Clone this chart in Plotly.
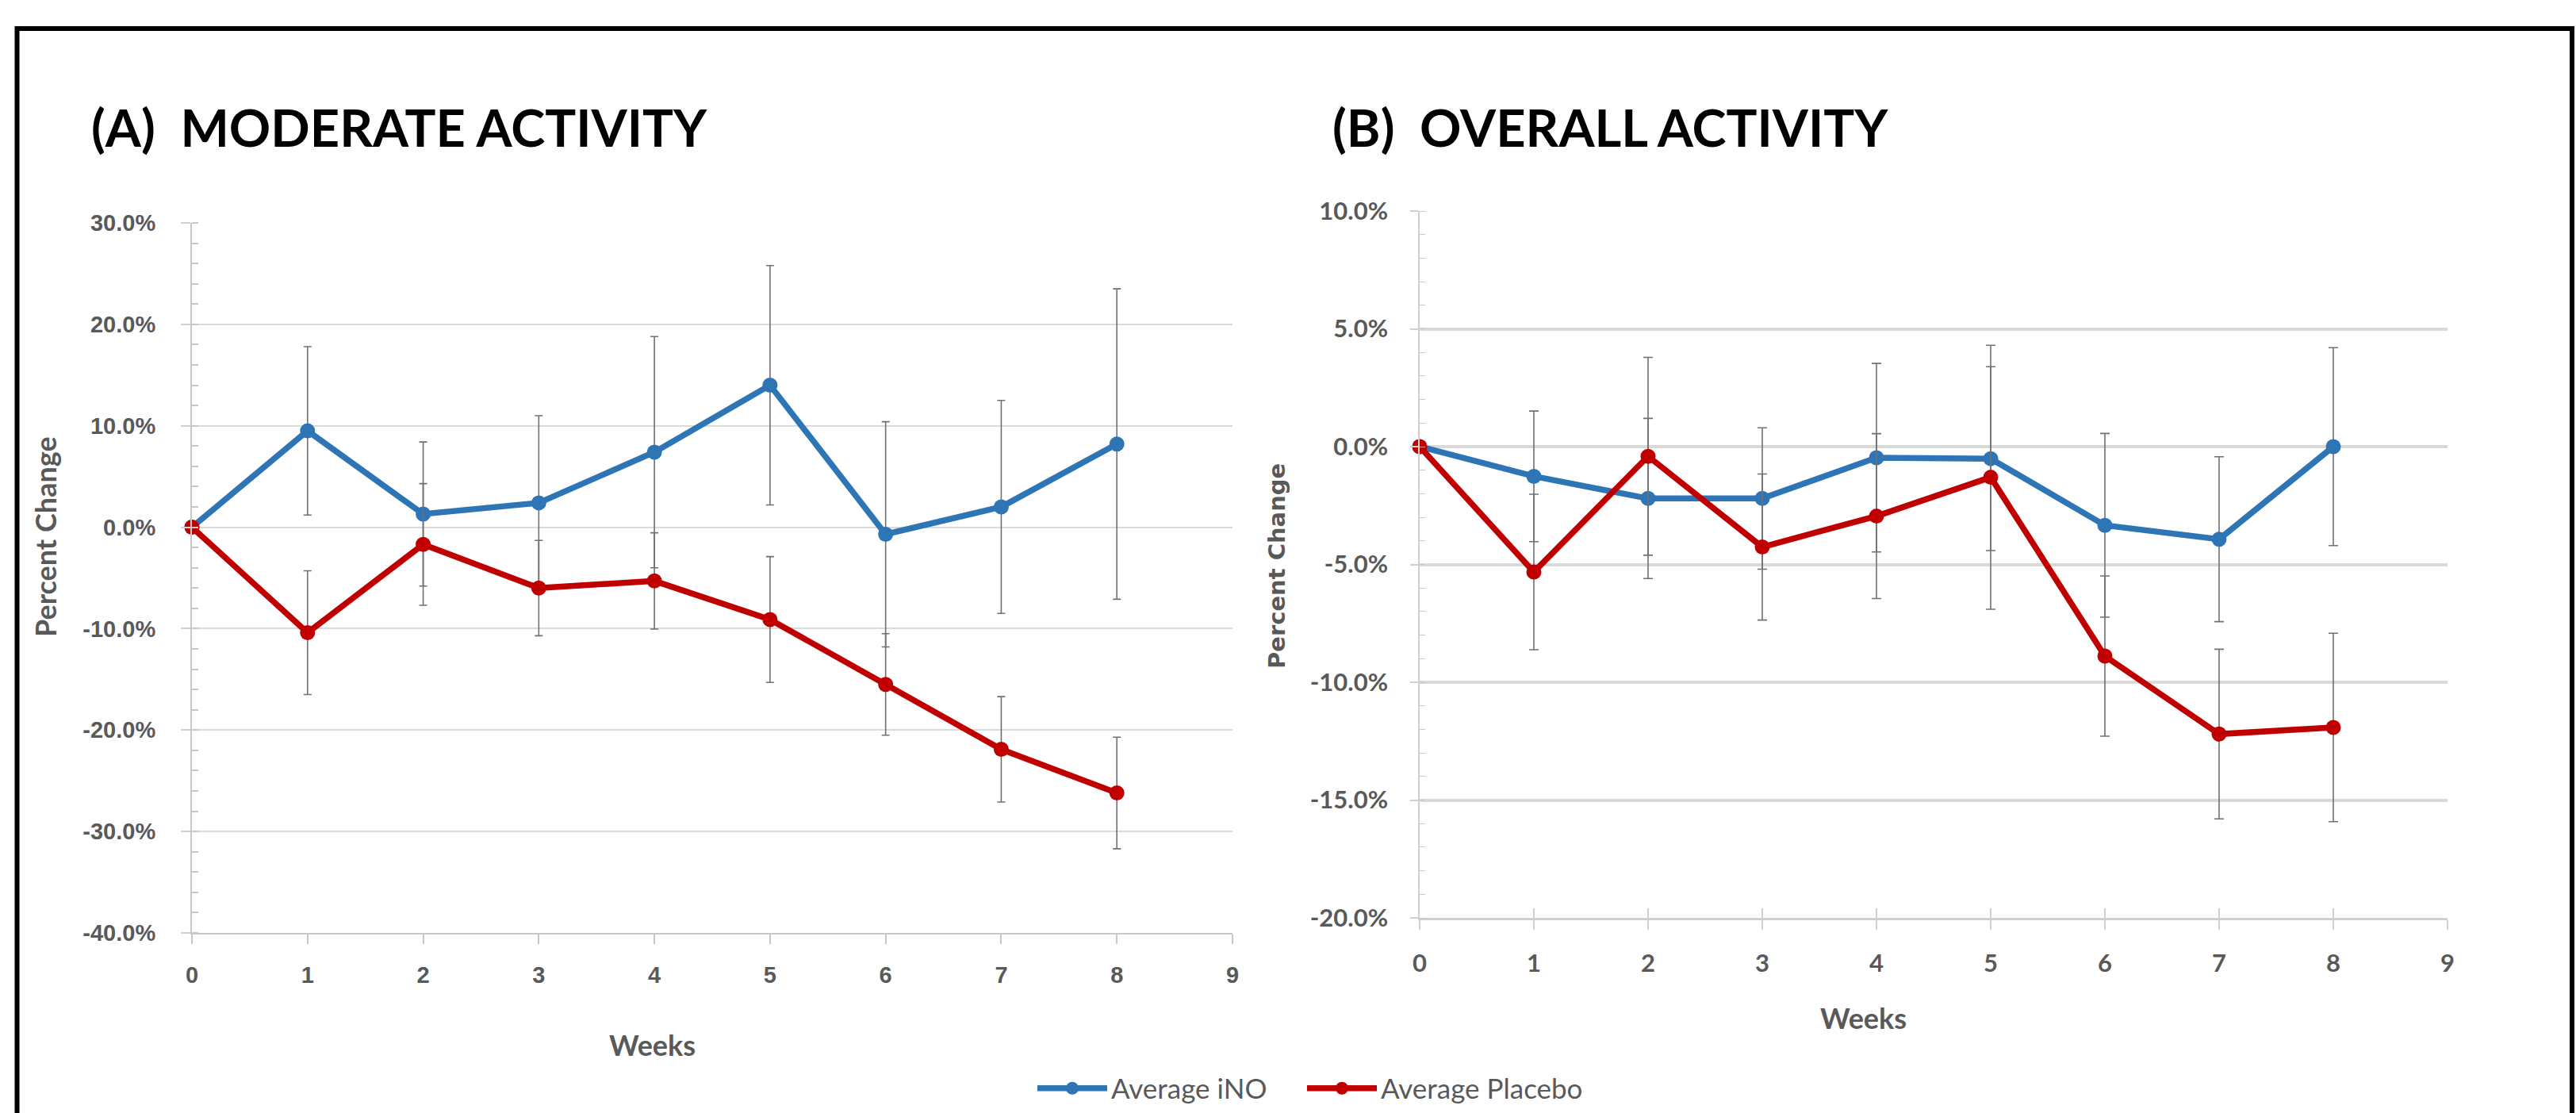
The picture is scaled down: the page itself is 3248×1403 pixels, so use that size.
import plotly.graph_objects as go

W, H = 3248, 1403

# ---------------- data ----------------
weeks = [0, 1, 2, 3, 4, 5, 6, 7, 8]
x_tick_vals = [0, 1, 2, 3, 4, 5, 6, 7, 8, 9]
x_tick_text = ["0", "1", "2", "3", "4", "5", "6", "7", "8", "9"]

# (A) Moderate activity, percent change
ino_mod = [0.0, 9.5, 1.3, 2.4, 7.4, 14.0, -0.7, 2.0, 8.2]
ino_mod_err = [0.0, 8.3, 7.1, 8.6, 11.4, 11.8, 11.1, 10.5, 15.3]
placebo_mod = [0.0, -10.4, -1.7, -6.0, -5.3, -9.1, -15.5, -21.9, -26.2]
placebo_mod_err = [0.0, 6.1, 6.0, 4.7, 4.75, 6.2, 5.0, 5.2, 5.5]
mod_tick_vals = [30, 20, 10, 0, -10, -20, -30, -40]
mod_tick_text = ["30.0%", "20.0%", "10.0%", "0.0%", "-10.0%", "-20.0%", "-30.0%", "-40.0%"]

# (B) Overall activity, percent change
ino_all = [0.0, -1.26, -2.2, -2.2, -0.47, -0.51, -3.34, -3.93, 0.0]
ino_all_err = [0.0, 2.77, 3.4, 3.0, 4.0, 3.9, 3.9, 3.5, 4.2]
placebo_all = [0.0, -5.32, -0.41, -4.26, -2.95, -1.30, -8.89, -12.2, -11.92]
placebo_all_err = [0.0, 3.3, 4.2, 3.1, 3.5, 5.6, 3.4, 3.6, 4.0]
all_tick_vals = [10, 5, 0, -5, -10, -15, -20]
all_tick_text = ["10.0%", "5.0%", "0.0%", "-5.0%", "-10.0%", "-15.0%", "-20.0%"]

series_names = ["Average iNO", "Average Placebo"]

# ---------------- styles ----------------
BLUE = "#2E75B6"
RED = "#C00000"
GRAY_TXT = "#595959"
ERR_C = "#707070"


def px(v):
    return v / W


def py(v):
    return 1 - v / H


fig = go.Figure()


def add(x, y, err, color, name, xa, ya, legend, capw, lg):
    fig.add_trace(go.Scatter(
        x=x, y=y, name=name, mode="lines+markers",
        line=dict(color=color, width=7.5),
        marker=dict(color=color, size=19),
        error_y=dict(type="data", array=err, visible=True, color=ERR_C,
                     thickness=1.6, width=capw),
        xaxis=xa, yaxis=ya, showlegend=legend, cliponaxis=False, legend=lg,
    ))


add(weeks, ino_mod, ino_mod_err, BLUE, series_names[0], "x", "y", True, 5, "legend")
add(weeks, placebo_mod, placebo_mod_err, RED, series_names[1], "x", "y", True, 5, "legend2")
add(weeks, ino_all, ino_all_err, BLUE, series_names[0], "x2", "y2", False, 6, "legend")
add(weeks, placebo_all, placebo_all_err, RED, series_names[1], "x2", "y2", False, 6, "legend2")
# invisible trace to carry the overlay axis (inner half of crossing ticks)
fig.add_trace(go.Scatter(x=weeks, y=ino_all, xaxis="x3", yaxis="y2", mode="lines",
                         opacity=0, showlegend=False, hoverinfo="skip"))

tick_font_a = dict(family="Liberation Sans, Arial", size=29, color=GRAY_TXT, weight="bold")
tick_font_b = dict(family="Lato", size=31, color=GRAY_TXT, weight="bold")
legend_style = dict(
    orientation="h", y=py(1372), yanchor="middle", xanchor="left",
    font=dict(family="Lato", size=35, color=GRAY_TXT),
    bgcolor="rgba(0,0,0,0)", itemwidth=88,
)

fig.update_layout(
    width=W, height=H,
    margin=dict(l=0, r=0, t=0, b=0, pad=0, autoexpand=False),
    paper_bgcolor="white", plot_bgcolor="white",
    xaxis=dict(
        domain=[px(242), px(1554)], anchor="y", range=[0, 9], automargin=False,
        tickmode="array", tickvals=x_tick_vals, ticktext=x_tick_text,
        ticks="outside", ticklen=12, tickwidth=2, tickcolor="#c8c8c8",
        showline=True, linecolor="#c8c8c8", linewidth=2,
        showgrid=False, zeroline=False, tickfont=tick_font_a,
        ticklabelstandoff=14,
    ),
    yaxis=dict(
        domain=[py(1176), py(281)], anchor="x", range=[-40, 30], automargin=False,
        tickmode="array", tickvals=mod_tick_vals, ticktext=mod_tick_text,
        ticks="outside", ticklen=12, tickwidth=2, tickcolor="#d0d0d0",
        showline=True, linecolor="#c8c8c8", linewidth=2,
        showgrid=True, gridcolor="#dadada", gridwidth=2, zeroline=False,
        tickfont=tick_font_a, ticklabelstandoff=26,
        minor=dict(tickmode="linear", tick0=0, dtick=2, ticks="inside",
                   ticklen=8, tickwidth=1.5, tickcolor="#c8c8c8", showgrid=False),
    ),
    xaxis2=dict(
        domain=[px(1790), px(3086)], anchor="y2", range=[0, 9], automargin=False,
        tickmode="array", tickvals=x_tick_vals, ticktext=x_tick_text,
        ticks="outside", ticklen=12, tickwidth=1.5, tickcolor="#d0d0d0",
        showline=True, linecolor="#cfcfcf", linewidth=3,
        showgrid=False, zeroline=False, tickfont=tick_font_b,
        ticklabelstandoff=16,
    ),
    xaxis3=dict(
        domain=[px(1790), px(3086)], anchor="y2", overlaying="x2", range=[0, 9],
        automargin=False,
        tickmode="array", tickvals=x_tick_vals, ticktext=x_tick_text,
        ticks="inside", ticklen=12, tickwidth=1.5, tickcolor="#d0d0d0",
        showticklabels=False, showline=False, showgrid=False, zeroline=False,
    ),
    yaxis2=dict(
        domain=[py(1157), py(266)], anchor="x2", range=[-20, 10], automargin=False,
        tickmode="array", tickvals=all_tick_vals, ticktext=all_tick_text,
        ticks="outside", ticklen=10, tickwidth=1.5, tickcolor="#d0d0d0",
        showline=True, linecolor="#d0d0d0", linewidth=1.5,
        showgrid=True, gridcolor="#d9d9d9", gridwidth=4, zeroline=False,
        tickfont=tick_font_b, ticklabelstandoff=22,
        minor=dict(tickmode="linear", tick0=0, dtick=1, ticks="inside",
                   ticklen=7, tickwidth=1.2, tickcolor="#c8c8c8", showgrid=False),
    ),
    legend=dict(x=px(1303), **legend_style),
    legend2=dict(x=px(1643), **legend_style),
    showlegend=True,
)

annos = [
    dict(text="(A)  MODERATE ACTIVITY", x=px(113), y=py(160), xanchor="left", yanchor="middle",
         font=dict(family="Lato", size=65, color="black", weight="bold")),
    dict(text="(B)  OVERALL ACTIVITY", x=px(1678), y=py(160), xanchor="left", yanchor="middle",
         font=dict(family="Lato", size=65, color="black", weight="bold")),
    dict(text="Percent Change", x=px(57), y=py(677), xanchor="center", yanchor="middle",
         textangle=-90, font=dict(family="Lato", size=36, color=GRAY_TXT, weight="bold")),
    dict(text="Percent Change", x=px(1610), y=py(714), xanchor="center", yanchor="middle",
         textangle=-90, font=dict(family="DejaVu Sans", size=29, color=GRAY_TXT, weight="bold")),
    dict(text="Weeks", x=px(822), y=py(1317), xanchor="center", yanchor="middle",
         font=dict(family="Lato", size=36, color=GRAY_TXT, weight="bold")),
    dict(text="Weeks", x=px(2349), y=py(1283), xanchor="center", yanchor="middle",
         font=dict(family="Lato", size=36, color=GRAY_TXT, weight="bold")),
]
for a in annos:
    fig.add_annotation(xref="paper", yref="paper", showarrow=False, **a)

fig.add_shape(type="rect", xref="paper", yref="paper",
              x0=px(21.5), x1=px(3243), y0=py(36), y1=-0.05,
              line=dict(color="black", width=6), fillcolor="rgba(0,0,0,0)", layer="above")

fig.write_html(
    "out.html",
    config={"displayModeBar": False},
    post_script="document.body.style.margin='0';document.body.style.overflow='hidden';",
)
